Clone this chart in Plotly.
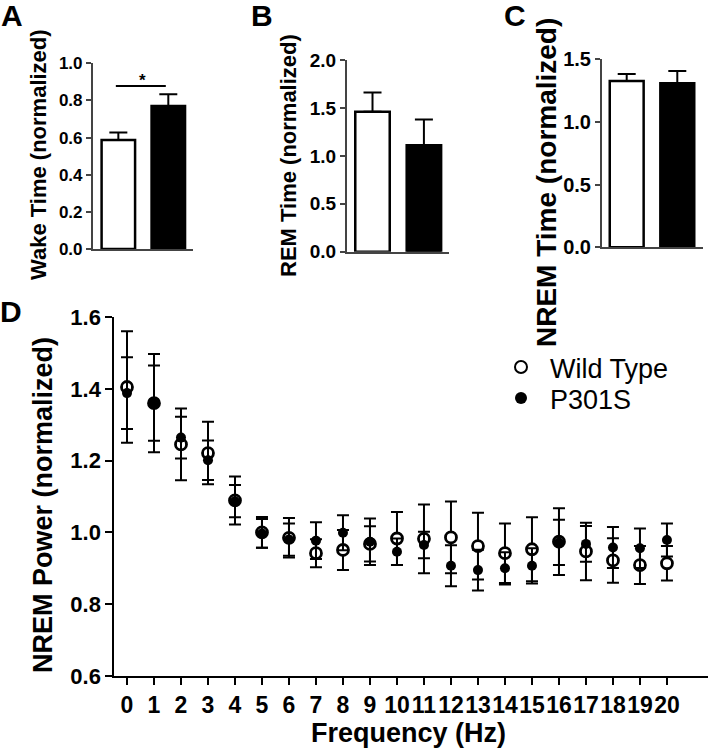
import plotly.graph_objects as go

# ---------------- data ----------------
groups = ["Wild Type", "P301S"]

wake_mean = [0.587, 0.770]
wake_err = [0.041, 0.063]
rem_mean = [1.46, 1.11]
rem_err = [0.20, 0.27]
nrem_mean = [1.327, 1.309]
nrem_err = [0.056, 0.098]
wake_sig_y = 0.878

freq = list(range(0, 21))
wt_power = [1.405, 1.360, 1.245, 1.221, 1.089, 1.000, 0.985, 0.942, 0.951, 0.968, 0.983,
            0.982, 0.986, 0.962, 0.942, 0.953, 0.974, 0.947, 0.922, 0.909, 0.914]
wt_sem = [0.155, 0.137, 0.100, 0.087, 0.067, 0.043, 0.055, 0.039, 0.056, 0.049, 0.074,
          0.096, 0.100, 0.093, 0.083, 0.089, 0.093, 0.080, 0.062, 0.053, 0.048]
p301s_power = [1.388, 1.360, 1.264, 1.201, 1.087, 0.997, 0.980, 0.977, 0.999, 0.974, 0.946,
               0.965, 0.907, 0.895, 0.900, 0.907, 0.972, 0.968, 0.958, 0.956, 0.979]
p301s_sem = [0.100, 0.105, 0.058, 0.055, 0.045, 0.040, 0.045, 0.051, 0.049, 0.065, 0.037,
             0.037, 0.057, 0.057, 0.045, 0.049, 0.063, 0.050, 0.057, 0.055, 0.046]

W, H = 709, 750
FONT = "Liberation Sans, Arial, Helvetica, sans-serif"


def px(x):
    return x / W


def py(y):
    return 1 - y / H


fig = go.Figure()

bar_fill = ["white", "black"]
panels = [
    ("x", "y", wake_mean, wake_err),
    ("x2", "y2", rem_mean, rem_err),
    ("x3", "y3", nrem_mean, nrem_err),
]
for xa, ya, means, errs in panels:
    fig.add_trace(go.Bar(
        x=[0, 1], y=means, width=0.67,
        marker=dict(color=bar_fill, line=dict(color="black", width=2.5)),
        error_y=dict(type="data", array=errs, arrayminus=[0, 0], symmetric=False,
                     color="black", thickness=2, width=9),
        xaxis=xa, yaxis=ya, showlegend=False, hoverinfo="skip",
    ))

# Panel D
fig.add_trace(go.Scatter(
    x=freq, y=wt_power, mode="markers", name=groups[0], legend="legend",
    marker=dict(symbol="circle", size=11, color="white", line=dict(color="black", width=2.8)),
    error_y=dict(type="data", array=wt_sem, color="black", thickness=2, width=6),
    xaxis="x4", yaxis="y4",
))
fig.add_trace(go.Scatter(
    x=freq, y=p301s_power, mode="markers", name=groups[1], legend="legend2",
    marker=dict(symbol="circle", size=10, color="black", line=dict(color="black", width=0)),
    error_y=dict(type="data", array=p301s_sem, color="black", thickness=2, width=6),
    xaxis="x4", yaxis="y4",
))

small_axis = dict(showline=True, linecolor="#444", linewidth=1.5, showgrid=False,
                  zeroline=False, ticks="outside", ticklen=5, tickwidth=1.5, tickcolor="#444")
hidden_x = dict(showline=True, linecolor="#444", linewidth=1.5, showgrid=False,
                zeroline=False, ticks="", showticklabels=False)

legend_style = dict(xanchor="left", yanchor="top", font=dict(size=27, family=FONT, color="black"),
                    bgcolor="rgba(0,0,0,0)", itemsizing="constant", itemwidth=48)

layout = dict(
    width=W, height=H, autosize=False,
    margin=dict(l=0, r=0, t=0, b=0, autoexpand=False),
    paper_bgcolor="white", plot_bgcolor="white",
    font=dict(family=FONT, color="black"),
    # Panel A
    xaxis=dict(domain=[px(92.7), px(193.3)], range=[-0.513, 1.5], anchor="y", **hidden_x),
    yaxis=dict(domain=[py(249), py(63.3)], range=[0, 1.0], dtick=0.2, tickformat=".1f",
               anchor="x", tickfont=dict(size=17, weight="bold"), **small_axis),
    # Panel B
    xaxis2=dict(domain=[px(346.7), px(449)], range=[-0.502, 1.488], anchor="y2", **hidden_x),
    yaxis2=dict(domain=[py(251.7), py(60)], range=[0, 2.0], dtick=0.5, tickformat=".1f",
                anchor="x2", tickfont=dict(size=19, weight="bold"), **small_axis),
    # Panel C
    xaxis3=dict(domain=[px(601.7), px(703)], range=[-0.494, 1.508], anchor="y3", **hidden_x),
    yaxis3=dict(domain=[py(247.3), py(59.3)], range=[0, 1.5], dtick=0.5, tickformat=".1f",
                anchor="x3", tickfont=dict(size=20, weight="bold"), **small_axis),
    # Panel D
    xaxis4=dict(domain=[px(114.3), px(708)], range=[-0.47, 21.52], anchor="y4",
                tickmode="array", tickvals=freq, ticktext=[str(f) for f in freq], tickangle=0,
                showline=True, linecolor="black", linewidth=2, showgrid=False, zeroline=False,
                ticks="outside", ticklen=7, tickwidth=2, tickcolor="black",
                tickfont=dict(size=23, weight="bold")),
    yaxis4=dict(domain=[py(676), py(317)], range=[0.6, 1.6], dtick=0.2, tickformat=".1f",
                anchor="x4", showline=True, linecolor="black", linewidth=2, showgrid=False,
                zeroline=False, ticks="outside", ticklen=7, tickwidth=2, tickcolor="black",
                tickfont=dict(size=22, weight="bold")),
    legend=dict(x=px(492), y=py(343), **legend_style),
    legend2=dict(x=px(492), y=py(374), **legend_style),
)
fig.update_layout(**layout)

# significance bracket in panel A
fig.add_shape(type="line", xref="x", yref="y", x0=-0.05, x1=0.95, y0=wake_sig_y, y1=wake_sig_y,
              line=dict(color="black", width=2))
fig.add_annotation(xref="x", yref="y", x=0.49, y=wake_sig_y, text="*", showarrow=False,
                   yanchor="bottom", yshift=-6, font=dict(size=17, weight="bold"))

annotations = [
    ("A", 12, 15, 30, 0), ("B", 262, 15, 30, 0), ("C", 515, 16, 30, 0), ("D", 11, 311, 30, 0),
    ("Wake Time (normalized)", 38, 155, 22, -90),
    ("REM Time (normalized)", 289, 156, 22, -90),
    ("NREM Time (normalized)", 546, 183, 28, -90),
    ("NREM Power (normalized)", 43, 505, 27, -90),
    ("Frequency (Hz)", 408, 733, 27, 0),
]
for text, x, y, size, ang in annotations:
    fig.add_annotation(xref="paper", yref="paper", x=px(x), y=py(y), text=text, showarrow=False,
                       xanchor="center", yanchor="middle", textangle=ang,
                       font=dict(size=size, weight="bold", family=FONT, color="black"))

fig.write_html(
    "out.html",
    config={"displayModeBar": False},
    post_script="document.body.style.margin='0';document.body.style.overflow='hidden';",
)
